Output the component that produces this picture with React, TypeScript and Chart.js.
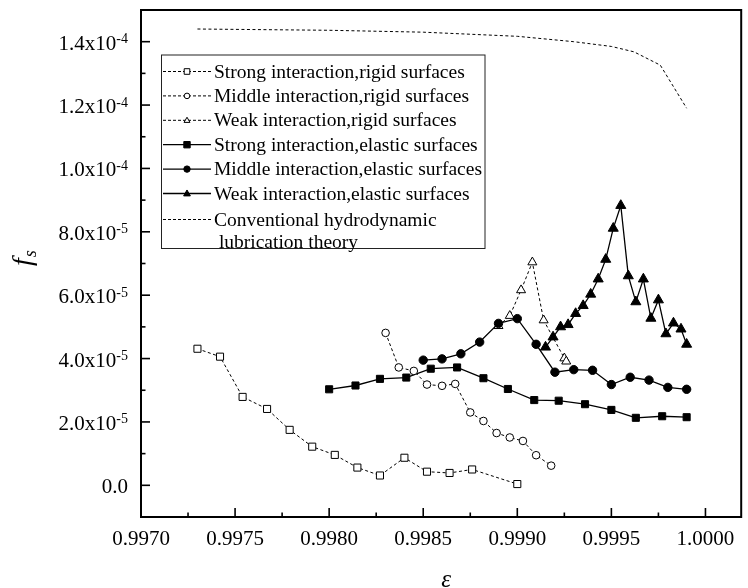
import React, { useEffect, useRef } from "react";
import { Chart, registerables } from "chart.js";

Chart.register(...registerables);

const FONT = '"Liberation Serif", "Times New Roman", Times, serif';

// Eccentricity ratio ε (x) and slip coefficient f_s (y) for each case
const strongRigidX = [0.9973, 0.99742, 0.99754, 0.99767, 0.99779, 0.99791, 0.99803, 0.99815, 0.99827, 0.9984, 0.99852, 0.99864, 0.99876, 0.999];
const strongRigidY = [4.31e-5, 4.06e-5, 2.79e-5, 2.41e-5, 1.75e-5, 1.22e-5, 0.96e-5, 0.56e-5, 0.31e-5, 0.87e-5, 0.43e-5, 0.39e-5, 0.5e-5, 0.04e-5];

const middleRigidX = [0.9983, 0.99837, 0.99845, 0.99852, 0.9986, 0.99867, 0.99875, 0.99882, 0.99889, 0.99896, 0.99903, 0.9991, 0.99918];
const middleRigidY = [4.81e-5, 3.72e-5, 3.61e-5, 3.18e-5, 3.14e-5, 3.2e-5, 2.3e-5, 2.03e-5, 1.65e-5, 1.51e-5, 1.4e-5, 0.95e-5, 0.62e-5];

const weakRigidX = [0.9989, 0.99896, 0.99902, 0.99908, 0.99914, 0.99925, 0.99926];
const weakRigidY = [5.03e-5, 5.35e-5, 6.16e-5, 7.04e-5, 5.21e-5, 4.01e-5, 3.91e-5];

const strongElasticX = [0.998, 0.99814, 0.99827, 0.99841, 0.99854, 0.99868, 0.99882, 0.99895, 0.99909, 0.99922, 0.99936, 0.9995, 0.99963, 0.99977, 0.9999];
const strongElasticY = [3.03e-5, 3.15e-5, 3.36e-5, 3.4e-5, 3.68e-5, 3.72e-5, 3.38e-5, 3.04e-5, 2.69e-5, 2.67e-5, 2.56e-5, 2.38e-5, 2.13e-5, 2.18e-5, 2.15e-5];

const middleElasticX = [0.9985, 0.9986, 0.9987, 0.9988, 0.9989, 0.999, 0.9991, 0.9992, 0.9993, 0.9994, 0.9995, 0.9996, 0.9997, 0.9998, 0.9999];
const middleElasticY = [3.95e-5, 3.99e-5, 4.15e-5, 4.52e-5, 5.11e-5, 5.26e-5, 4.45e-5, 3.57e-5, 3.65e-5, 3.63e-5, 3.18e-5, 3.41e-5, 3.32e-5, 3.09e-5, 3.03e-5];

const weakElasticX = [0.99915, 0.99919, 0.99923, 0.99927, 0.99931, 0.99935, 0.99939, 0.99943, 0.99947, 0.99951, 0.99955, 0.99959, 0.99963, 0.99967, 0.99971, 0.99975, 0.99979, 0.99983, 0.99987, 0.9999];
const weakElasticY = [4.36e-5, 4.68e-5, 5.0e-5, 5.07e-5, 5.42e-5, 5.67e-5, 6.03e-5, 6.51e-5, 7.13e-5, 8.11e-5, 8.83e-5, 6.61e-5, 5.79e-5, 6.51e-5, 5.27e-5, 5.85e-5, 4.78e-5, 5.12e-5, 4.93e-5, 4.45e-5];

const conventionalX = [0.9973, 0.998, 0.9985, 0.999, 0.9993, 0.9995, 0.99962, 0.99976, 0.9999];
const conventionalY = [1.44e-4, 1.436e-4, 1.43e-4, 1.417e-4, 1.4e-4, 1.385e-4, 1.368e-4, 1.326e-4, 1.19e-4];

// Axis ticks
const X_TICKS = [0.997, 0.9975, 0.998, 0.9985, 0.999, 0.9995, 1.0];
const Y_TICKS = [0, 2e-5, 4e-5, 6e-5, 8e-5, 1e-4, 1.2e-4, 1.4e-4];

const LEGEND_LABELS = [
  "Strong interaction,rigid surfaces",
  "Middle interaction,rigid surfaces",
  "Weak interaction,rigid surfaces",
  "Strong interaction,elastic surfaces",
  "Middle interaction,elastic surfaces",
  "Weak interaction,elastic surfaces",
  "Conventional hydrodynamic",
];
const LEGEND_EXTRA_LINE = " lubrication theory";

const pts = (xs: number[], ys: number[]) => xs.map((x, i) => ({ x, y: ys[i] }));

type Style = { marker: "rect" | "circle" | "triangle" | null; filled: boolean; dashed: boolean };
const STYLES: Style[] = [
  { marker: "rect", filled: false, dashed: true },
  { marker: "circle", filled: false, dashed: true },
  { marker: "triangle", filled: false, dashed: true },
  { marker: "rect", filled: true, dashed: false },
  { marker: "circle", filled: true, dashed: false },
  { marker: "triangle", filled: true, dashed: false },
  { marker: null, filled: false, dashed: true },
];

function drawMarker(ctx: CanvasRenderingContext2D, kind: string, x: number, y: number, r: number, filled: boolean) {
  ctx.beginPath();
  if (kind === "rect") {
    ctx.rect(x - r, y - r, 2 * r, 2 * r);
  } else if (kind === "circle") {
    ctx.arc(x, y, r, 0, Math.PI * 2);
  } else {
    ctx.moveTo(x, y - r * 1.1);
    ctx.lineTo(x + r * 1.05, y + r * 0.75);
    ctx.lineTo(x - r * 1.05, y + r * 0.75);
    ctx.closePath();
  }
  ctx.fillStyle = filled ? "#000" : "#fff";
  ctx.fill();
  ctx.setLineDash([]);
  ctx.lineWidth = 1;
  ctx.strokeStyle = "#000";
  ctx.stroke();
}

function drawSciLabel(ctx: CanvasRenderingContext2D, v: number, xRight: number, y: number) {
  ctx.fillStyle = "#000";
  ctx.textAlign = "right";
  ctx.textBaseline = "alphabetic";
  if (v === 0) {
    ctx.font = `21px ${FONT}`;
    ctx.fillText("0.0", xRight, y + 7);
    return;
  }
  const exp = Math.floor(Math.log10(v) + 1e-9);
  const mant = v / Math.pow(10, exp);
  const sup = String(exp);
  ctx.font = `14px ${FONT}`;
  const sw = ctx.measureText(sup).width;
  ctx.fillText(sup, xRight, y + 0.5);
  ctx.font = `21px ${FONT}`;
  ctx.fillText(mant.toFixed(1) + "x10", xRight - sw, y + 7);
}

const decorPlugin = {
  id: "decor",
  afterDraw(chart: any) {
    const { ctx, chartArea: a, scales } = chart;
    const xs = scales.x;
    const ys = scales.y;
    ctx.save();

    // frame
    ctx.strokeStyle = "#000";
    ctx.lineWidth = 2;
    ctx.setLineDash([]);
    ctx.strokeRect(a.left, a.top, a.right - a.left, a.bottom - a.top);

    // inward ticks, major and minor
    ctx.lineWidth = 1.6;
    const line = (x1: number, y1: number, x2: number, y2: number) => {
      ctx.beginPath();
      ctx.moveTo(x1, y1);
      ctx.lineTo(x2, y2);
      ctx.stroke();
    };
    X_TICKS.forEach((v, i) => {
      const px = xs.getPixelForValue(v);
      line(px, a.bottom, px, a.bottom - 9);
      if (i < X_TICKS.length - 1) {
        const m = xs.getPixelForValue((v + X_TICKS[i + 1]) / 2);
        line(m, a.bottom, m, a.bottom - 4.5);
      }
    });
    Y_TICKS.forEach((v, i) => {
      const py = ys.getPixelForValue(v);
      line(a.left, py, a.left + 9, py);
      if (i < Y_TICKS.length - 1) {
        const m = ys.getPixelForValue((v + Y_TICKS[i + 1]) / 2);
        line(a.left, m, a.left + 4.5, m);
      }
      drawSciLabel(ctx, v, 128, py + 1);
    });

    // axis titles
    ctx.fillStyle = "#000";
    ctx.font = `italic 25px ${FONT}`;
    ctx.textAlign = "center";
    ctx.textBaseline = "alphabetic";
    ctx.fillText("ε", (a.left + a.right) / 2 + 5, 587);

    ctx.save();
    ctx.translate(31, 266);
    ctx.rotate(-Math.PI / 2);
    ctx.textAlign = "left";
    ctx.font = `italic 28px ${FONT}`;
    ctx.fillText("f", 0, 0);
    const fw = ctx.measureText("f").width;
    ctx.font = `italic 18px ${FONT}`;
    ctx.fillText("s", fw + 1, 5);
    ctx.restore();

    // legend
    const bx = 161.5, by = 55, bw = 323.5, bh = 193.5;
    ctx.fillStyle = "#fff";
    ctx.fillRect(bx, by, bw, bh);
    ctx.strokeStyle = "#222";
    ctx.lineWidth = 1;
    ctx.strokeRect(bx, by, bw, bh);
    const rowY = [71.5, 95.9, 120.3, 144.7, 169.1, 193.5, 219.5];
    STYLES.forEach((s, i) => {
      const y = rowY[i];
      ctx.strokeStyle = "#000";
      ctx.lineWidth = s.dashed ? 1 : 1.3;
      ctx.setLineDash(s.dashed ? [3, 2] : []);
      line(163, y, 211, y);
      if (s.marker) drawMarker(ctx, s.marker, 187, y, s.filled ? 3.2 : 2.8, s.filled);
      ctx.fillStyle = "#000";
      ctx.font = `19.5px ${FONT}`;
      ctx.textAlign = "left";
      ctx.textBaseline = "middle";
      ctx.fillText(LEGEND_LABELS[i], 214, y + 1);
    });
    ctx.fillText(LEGEND_EXTRA_LINE, 214, 243);

    ctx.restore();
  },
};

function makeDataset(label: string, xs: number[], ys: number[], s: Style) {
  const radius = s.marker === "triangle" ? (s.filled ? 5.8 : 5.2) : s.marker === "rect" ? 5 : s.filled ? 4.2 : 3.8;
  return {
    label,
    data: pts(xs, ys),
    showLine: true,
    tension: 0,
    borderColor: "#000",
    borderWidth: s.dashed ? 1 : 1.3,
    borderDash: s.dashed ? [3, 2.5] : [],
    pointStyle: s.marker || "circle",
    pointRadius: s.marker ? radius : 0,
    pointBackgroundColor: s.filled ? "#000" : "#fff",
    pointBorderColor: "#000",
    pointBorderWidth: 1,
  };
}

export default function App() {
  const ref = useRef<HTMLCanvasElement>(null);

  useEffect(() => {
    if (!ref.current) return;
    const chart = new Chart(ref.current, {
      type: "scatter",
      data: {
        datasets: [
          makeDataset(LEGEND_LABELS[6], conventionalX, conventionalY, STYLES[6]),
          makeDataset(LEGEND_LABELS[0], strongRigidX, strongRigidY, STYLES[0]),
          makeDataset(LEGEND_LABELS[1], middleRigidX, middleRigidY, STYLES[1]),
          makeDataset(LEGEND_LABELS[3], strongElasticX, strongElasticY, STYLES[3]),
          makeDataset(LEGEND_LABELS[4], middleElasticX, middleElasticY, STYLES[4]),
          makeDataset(LEGEND_LABELS[2], weakRigidX, weakRigidY, STYLES[2]),
          makeDataset(LEGEND_LABELS[5], weakElasticX, weakElasticY, STYLES[5]),
        ] as any,
      },
      options: {
        animation: false,
        responsive: false,
        devicePixelRatio: 1,
        layout: { padding: { left: 0, top: 10, right: 3, bottom: 0 } },
        plugins: { legend: { display: false }, tooltip: { enabled: false } },
        scales: {
          x: {
            type: "linear",
            min: 0.997,
            max: 1.00019,
            grid: { display: false, drawTicks: false },
            border: { display: false },
            afterBuildTicks: (s: any) => {
              s.ticks = X_TICKS.map((value) => ({ value }));
            },
            afterFit: (s: any) => {
              s.height = 71;
            },
            ticks: {
              autoSkip: false,
              maxRotation: 0,
              padding: 10,
              color: "#000",
              font: { family: FONT, size: 21 },
              callback: (v: any) => Number(v).toFixed(4),
            },
          },
          y: {
            type: "linear",
            min: -1e-5,
            max: 1.5e-4,
            grid: { display: false, drawTicks: false },
            border: { display: false },
            afterBuildTicks: (s: any) => {
              s.ticks = Y_TICKS.map((value) => ({ value }));
            },
            afterFit: (s: any) => {
              s.width = 141;
            },
            ticks: { display: false },
          },
        },
      },
      plugins: [decorPlugin],
    });
    return () => chart.destroy();
  }, []);

  return (
    <div style={{ position: "absolute", left: 0, top: 0, width: 748, height: 588, background: "#fff" }}>
      <canvas ref={ref} width={748} height={588} style={{ display: "block" }} />
    </div>
  );
}
